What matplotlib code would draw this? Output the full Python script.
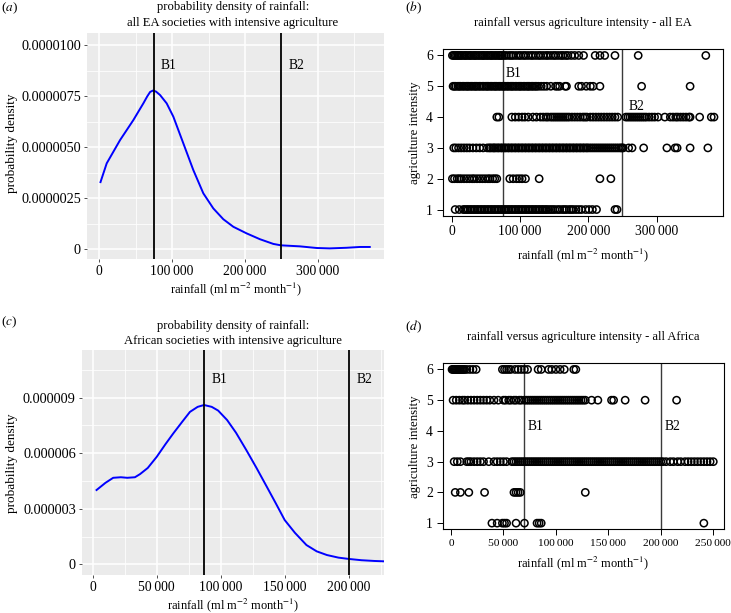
import matplotlib
matplotlib.use("Agg")
import matplotlib.pyplot as plt
import numpy as np
from matplotlib.ticker import FuncFormatter, MultipleLocator

plt.rcParams["font.family"] = ["Liberation Serif", "DejaVu Serif"]
plt.rcParams["mathtext.fontset"] = "stix"

# ---- density curves (rainfall in thousands, density in 1e-6) ----
ea_dens_x = [2, 10.5, 28.8, 47, 60.7, 66, 70, 74, 78, 83.6, 92.7, 101.8, 115.5, 129.2, 142.9,
             156.6, 170.3, 184, 202, 220.5, 238.8, 249.3, 275.3, 298, 316, 339, 357.5, 371]
ea_dens_y = [3.28, 4.20, 5.34, 6.32, 7.14, 7.48, 7.70, 7.77, 7.72, 7.55, 7.14, 6.49, 5.18,
             3.87, 2.73, 1.99, 1.46, 1.09, 0.77, 0.48, 0.25, 0.18, 0.13, 0.05, 0.03, 0.06,
             0.10, 0.10]

af_dens_x = [3, 10, 16, 22, 27, 33, 37, 43, 50, 57, 63, 70, 76, 82, 87, 93, 98, 105, 112,
             120, 128, 136, 143, 150, 158, 167, 175, 183, 192, 200, 210, 220, 228]
af_dens_y = [4.01, 4.40, 4.67, 4.70, 4.67, 4.70, 4.87, 5.20, 5.80, 6.50, 7.07, 7.70, 8.23,
             8.50, 8.60, 8.50, 8.30, 7.79, 7.10, 6.17, 5.20, 4.19, 3.30, 2.39, 1.70, 1.04,
             0.70, 0.50, 0.36, 0.29, 0.22, 0.18, 0.16]

ea_breaks = [75000, 250000]
af_breaks = [87000, 200000]
sc_ea_breaks = [75000, 250000]
sc_af_breaks = [70000, 200000]

# ---- scatter: rainfall (thousands) per agriculture intensity level ----
ea6 = [1, 3, 5, 7, 9, 11, 13, 15, 18, 20, 22, 25, 27, 29, 32, 34, 36, 39, 41, 44, 46, 48,
       51, 53, 56, 58, 60, 63, 65, 68, 70, 72, 74, 77, 80, 84, 87, 90, 94, 98, 101, 105,
       108, 112, 116, 119, 123, 127, 130, 134, 138, 141, 145, 149, 152, 156, 160, 163, 167,
       170, 175, 180, 186, 193, 210, 217, 224, 239, 273, 372]
ea5 = [2, 4, 6, 9, 11, 13, 16, 18, 21, 23, 25, 28, 30, 33, 35, 37, 40, 42, 45, 47, 50, 52,
       54, 57, 59, 62, 64, 66, 69, 71, 74, 76, 78, 81, 83, 86, 88, 90, 93, 95, 98, 100,
       102, 105, 107, 110, 112, 114, 117, 119, 122, 124, 127, 131, 135, 139, 145, 152, 155,
       158, 166, 168, 186, 190, 197, 203, 207, 217, 278, 349]
ea4 = [66, 69, 88, 93, 98, 103, 107, 112, 119, 124, 130, 134, 138, 141, 145, 148, 151, 154,
       157, 160, 163, 166, 169, 172, 176, 180, 184, 188, 192, 195, 198, 203, 207, 211, 215,
       219, 223, 227, 231, 235, 239, 243, 255, 258, 261, 264, 267, 270, 273, 276, 279, 282,
       285, 289, 293, 297, 302, 312, 320, 324, 328, 331, 335, 339, 343, 347, 349, 363, 380, 384]
ea3 = [3, 6, 10, 14, 18, 22, 26, 31, 36, 41, 46, 52, 55, 57, 60, 62, 64, 67, 69, 72, 74, 77,
       79, 82, 84, 87, 89, 92, 94, 97, 99, 102, 104, 107, 109, 112, 114, 117, 119, 122, 124,
       127, 129, 132, 134, 137, 139, 142, 144, 147, 149, 152, 154, 157, 159, 162, 164, 167,
       169, 172, 174, 177, 179, 182, 184, 187, 189, 192, 194, 197, 199, 202, 205, 208, 211,
       214, 217, 220, 223, 226, 229, 232, 235, 238, 241, 244, 247, 249, 251, 259, 264, 281,
       315, 327, 330, 349, 375]
ea2 = [1, 4, 8, 11, 14, 18, 22, 26, 30, 33, 37, 41, 45, 49, 53, 56, 60, 63, 66, 85, 90, 95,
       99, 103, 108, 128, 217, 233]
ea1 = [5, 11, 17, 19, 22, 24, 27, 29, 32, 34, 37, 39, 42, 44, 47, 49, 52, 54, 57, 59, 62, 64,
       67, 69, 72, 74, 77, 79, 82, 84, 87, 89, 92, 94, 97, 99, 102, 104, 107, 109, 112, 114,
       117, 119, 122, 124, 127, 129, 132, 134, 137, 139, 142, 145, 148, 151, 155, 158, 162,
       165, 168, 172, 175, 178, 182, 186, 190, 196, 201, 206, 212, 239, 242]

af6 = [1, 2, 3, 4, 5, 6, 7, 8, 9, 10, 11, 12, 13, 15, 18, 21, 24, 49, 51, 53, 55, 57, 61,
       64, 67, 70, 73, 83, 86, 93, 96, 100, 104, 108, 117, 119]
af5 = [2, 5, 8, 11, 13, 16, 19, 22, 25, 28, 31, 34, 37, 41, 45, 50, 52, 55, 57, 60, 62, 65,
       67, 70, 72, 74, 76, 78, 80, 82, 84, 86, 88, 90, 92, 94, 96, 98, 100, 102, 104, 106,
       108, 110, 112, 114, 116, 118, 120, 122, 124, 126, 128, 134, 140, 153, 155, 166, 185, 215]
af3 = [3, 6, 9, 15, 17, 19, 22, 25, 28, 31, 36, 41, 44, 47, 50, 53, 58, 60, 62, 64, 66, 68,
       70, 72, 74, 76, 78, 80, 82, 84, 86, 88, 90, 92, 94, 96, 98, 100, 102, 104, 106, 108,
       110, 112, 114, 116, 118, 120, 122, 124, 126, 128, 130, 132, 134, 136, 138, 140, 142,
       144, 146, 148, 150, 152, 154, 156, 158, 160, 162, 164, 166, 168, 170, 172, 174, 176,
       178, 180, 182, 184, 186, 188, 190, 192, 194, 196, 198, 200, 202, 205, 209, 212, 216,
       219, 223, 226, 229, 232, 235, 238, 241, 244, 247, 250]
af2 = [4, 9, 17, 32, 60, 62, 64, 66, 128]
af1 = [39, 44, 49, 51, 53, 62, 70, 82, 84, 86, 241]

W, H = 731, 613
XLAB = r"rainfall (ml m$^{-2}$ month$^{-1}$)"


def box(l, t, r, b):
    return [l / W, 1 - b / H, (r - l) / W, (b - t) / H]


def thin_thousands(v, pos):
    v = int(round(v))
    return f"{v:,}".replace(",", "\u2009")


def gg_style(ax, xmajor, ymajor):
    ax.set_facecolor("#EBEBEB")
    for s in ax.spines.values():
        s.set_visible(False)
    ax.xaxis.set_major_locator(MultipleLocator(xmajor))
    ax.xaxis.set_minor_locator(MultipleLocator(xmajor / 2))
    ax.yaxis.set_major_locator(MultipleLocator(ymajor))
    ax.yaxis.set_minor_locator(MultipleLocator(ymajor / 2))
    ax.grid(True, which="major", color="white", lw=1.1)
    ax.grid(True, which="minor", color="white", lw=0.55)
    ax.set_axisbelow(True)
    ax.tick_params(which="major", length=2.5, width=0.6, color="#333333",
                   labelsize=9.8, pad=2)
    ax.tick_params(axis="y", labelsize=10.3)
    ax.tick_params(which="minor", length=0)
    ax.xaxis.set_major_formatter(FuncFormatter(thin_thousands))


def base_style(ax, xticks, xsize):
    for s in ax.spines.values():
        s.set_linewidth(0.8)
    ax.set_xticks(xticks)
    ax.set_yticks([1, 2, 3, 4, 5, 6])
    ax.tick_params(length=4, width=0.7, labelsize=9.8, pad=3)
    ax.tick_params(axis="x", labelsize=xsize)
    ax.xaxis.set_major_formatter(FuncFormatter(thin_thousands))


def scatter_rows(ax, levels, rows):
    for lvl, vals in zip(levels, rows):
        ax.scatter(np.array(vals) * 1000, [lvl] * len(vals), s=27, facecolors="none",
                   edgecolors="black", linewidths=1.1, zorder=3)


fig = plt.figure(figsize=(7.31, 6.13), dpi=100)

# (a) density all EA
ax = fig.add_axes(box(87, 33, 384, 259))
gg_style(ax, 100000, 2.5e-6)
ax.plot(np.array(ea_dens_x) * 1000, np.array(ea_dens_y) * 1e-6, color="#0000FF", lw=1.4)
for b in ea_breaks:
    ax.axvline(b, color="black", lw=1.3)
ax.text(ea_breaks[0] + 10000, 9.0e-6, "B1", fontsize=9.8, va="center")
ax.text(ea_breaks[1] + 10000, 9.0e-6, "B2", fontsize=9.8, va="center")
ax.set_xlim(-16500, 390500)
ax.set_ylim(-0.49e-6, 10.59e-6)
ax.yaxis.set_major_formatter(FuncFormatter(lambda v, p: "0" if abs(v) < 1e-12 else f"{v:.7f}"))

# (c) density Africa
ax = fig.add_axes(box(82, 350, 384, 575))
gg_style(ax, 50000, 3e-6)
ax.plot(np.array(af_dens_x) * 1000, np.array(af_dens_y) * 1e-6, color="#0000FF", lw=1.4)
for b in af_breaks:
    ax.axvline(b, color="black", lw=1.3)
ax.text(af_breaks[0] + 6000, 10.0e-6, "B1", fontsize=9.8, va="center")
ax.text(af_breaks[1] + 6000, 10.0e-6, "B2", fontsize=9.8, va="center")
ax.set_xlim(-8360, 227600)
ax.set_ylim(-0.578e-6, 11.57e-6)
ax.yaxis.set_major_formatter(FuncFormatter(lambda v, p: "0" if abs(v) < 1e-12 else f"{v:.6f}"))

# (b) scatter all EA
ax = fig.add_axes(box(442.7, 49.3, 723.3, 215.7))
scatter_rows(ax, [6, 5, 4, 3, 2, 1], [ea6, ea5, ea4, ea3, ea2, ea1])
for b in sc_ea_breaks:
    ax.axvline(b, color="#3a3a3a", lw=1.0, zorder=2)
ax.text(91000, 5.42, "B1", fontsize=9.8, ha="center", va="center")
ax.text(270000, 4.35, "B2", fontsize=9.8, ha="center", va="center")
ax.set_xlim(-13200, 397600)
ax.set_ylim(0.8, 6.2)
base_style(ax, [0, 100000, 200000, 300000], 9.8)

# (d) scatter Africa
ax = fig.add_axes(box(442.7, 363.3, 724, 529.3))
scatter_rows(ax, [6, 5, 3, 2, 1], [af6, af5, af3, af2, af1])
for b in sc_af_breaks:
    ax.axvline(b, color="#3a3a3a", lw=1.0, zorder=2)
ax.text(80700, 4.13, "B1", fontsize=9.8, ha="center", va="center")
ax.text(211000, 4.13, "B2", fontsize=9.8, ha="center", va="center")
ax.set_xlim(-7900, 260200)
ax.set_ylim(0.8, 6.2)
base_style(ax, [0, 50000, 100000, 150000, 200000, 250000], 8.2)

# titles, labels, panel letters
def ftext(x, y, s, **kw):
    fig.text(x / W, 1 - y / H, s, **kw)

ftext(233, 15, "probability density of rainfall:\nall EA societies with intensive agriculture",
      ha="center", va="center", fontsize=9.1, linespacing=1.45)
ftext(233, 333.5, "probability density of rainfall:\nAfrican societies with intensive agriculture",
      ha="center", va="center", fontsize=9.1, linespacing=1.4)
ftext(583, 23, "rainfall versus agriculture intensity - all EA", ha="center", va="center",
      fontsize=9.0)
ftext(583, 337, "rainfall versus agriculture intensity - all Africa", ha="center",
      va="center", fontsize=9.0)

ftext(236, 289, XLAB, ha="center", va="center", fontsize=9.0)
ftext(233, 605, XLAB, ha="center", va="center", fontsize=9.0)
ftext(583, 255, XLAB, ha="center", va="center", fontsize=9.0)
ftext(583, 563, XLAB, ha="center", va="center", fontsize=9.0)

ftext(12, 143, "probability density", rotation=90, ha="center", va="center", fontsize=9.5)
ftext(12, 463, "probability density", rotation=90, ha="center", va="center", fontsize=9.5)
ftext(415, 133, "agriculture intensity", rotation=90, ha="center", va="center", fontsize=9.3)
ftext(415, 447, "agriculture intensity", rotation=90, ha="center", va="center", fontsize=9.3)

ftext(1, 8, r"($a$)", ha="left", va="center", fontsize=9.5)
ftext(405, 8, r"($b$)", ha="left", va="center", fontsize=9.5)
ftext(1, 322, r"($c$)", ha="left", va="center", fontsize=9.5)
ftext(405, 327, r"($d$)", ha="left", va="center", fontsize=9.5)

fig.savefig("out.png", dpi=100)
